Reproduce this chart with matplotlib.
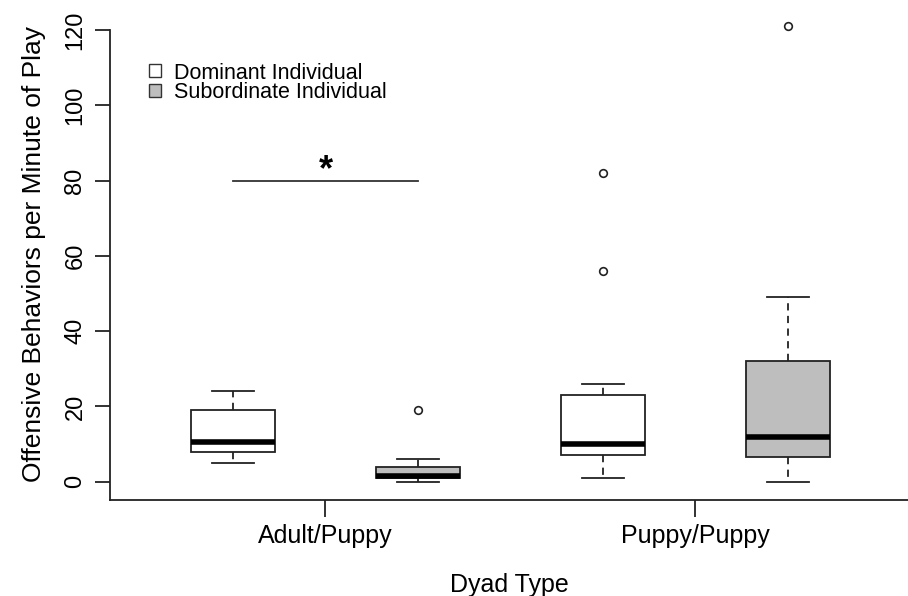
import matplotlib.pyplot as plt
from matplotlib.patches import Patch

plt.rcParams['font.family'] = ['Liberation Sans', 'DejaVu Sans']

# values (per box: low whisker, q1, median, q3, high whisker, outliers)
groups = ["Adult/Puppy", "Puppy/Puppy"]
roles = ["Dominant Individual", "Subordinate Individual"]
whislo = [5, 0, 1, 0]
q1 = [8, 1, 7, 6.5]
med = [10.5, 1.5, 10, 12]
q3 = [19, 4, 23, 32]
whishi = [24, 6, 26, 49]
fliers = [[], [19], [56, 82], [121]]
fills = ["white", "#bebebe", "white", "#bebebe"]
yticks = [0, 20, 40, 60, 80, 100, 120]
sig_y = 80

stats = []
for i in range(4):
    stats.append(dict(whislo=whislo[i], q1=q1[i], med=med[i], q3=q3[i],
                      whishi=whishi[i], fliers=fliers[i]))

fig = plt.figure(figsize=(9.08, 5.96), dpi=100)
ax = fig.add_axes([110/908, 96/596, 798/908, 492/596])

pos = [1, 2, 3, 4]
bp = ax.bxp(stats, positions=pos, widths=0.454, patch_artist=True,
            boxprops=dict(edgecolor="#222222", linewidth=1.3),
            medianprops=dict(color="black", linewidth=4, solid_capstyle="butt"),
            whiskerprops=dict(color="#222222", linewidth=1.3, linestyle=(0, (4, 3))),
            capprops=dict(color="#222222", linewidth=1.3),
            capwidths=0.227,
            flierprops=dict(marker="o", markersize=5.5, markerfacecolor="none",
                            markeredgecolor="#222222", markeredgewidth=1.2))
for b, c in zip(bp["boxes"], fills):
    b.set_facecolor(c)

ax.set_xlim(0.335, 4.65)
ax.set_ylim(-4.84, 125.84)

ax.spines["top"].set_visible(False)
ax.spines["right"].set_visible(False)
ax.spines["left"].set_bounds(-4.84, 120)
for s in ["left", "bottom"]:
    ax.spines[s].set_linewidth(1.3)
    ax.spines[s].set_color("#222222")

ax.set_xticks([1.5, 3.5])
ax.set_xticklabels(groups, fontsize=18)
ax.set_yticks(yticks)
ax.set_yticklabels([str(v) for v in yticks], fontsize=17, rotation=90, va="center")
ax.tick_params(axis="x", length=12, width=1.3, pad=5, color="#222222")
ax.tick_params(axis="y", length=11, width=1.3, pad=6, color="#222222")

ax.set_xlabel("Dyad Type", fontsize=18, labelpad=18)
ax.set_ylabel("Offensive Behaviors per Minute of Play", fontsize=19, labelpad=13)

# significance bar
ax.plot([pos[0], pos[1]], [sig_y, sig_y], color="#333333", linewidth=1.3)
ax.text((pos[0] + pos[1]) / 2, sig_y - 2.0, "*", fontsize=26, fontweight="bold",
        ha="center", va="bottom")

handles = [Patch(facecolor=c, edgecolor="#333333", linewidth=1) for c in fills[:2]]
ax.legend(handles, roles, loc="upper left", bbox_to_anchor=(0.036, 0.911),
          frameon=False, fontsize=15.5, handlelength=0.55, handleheight=0.55,
          handletextpad=0.6, labelspacing=-0.05, borderpad=0)

fig.savefig("out.png", dpi=100)
